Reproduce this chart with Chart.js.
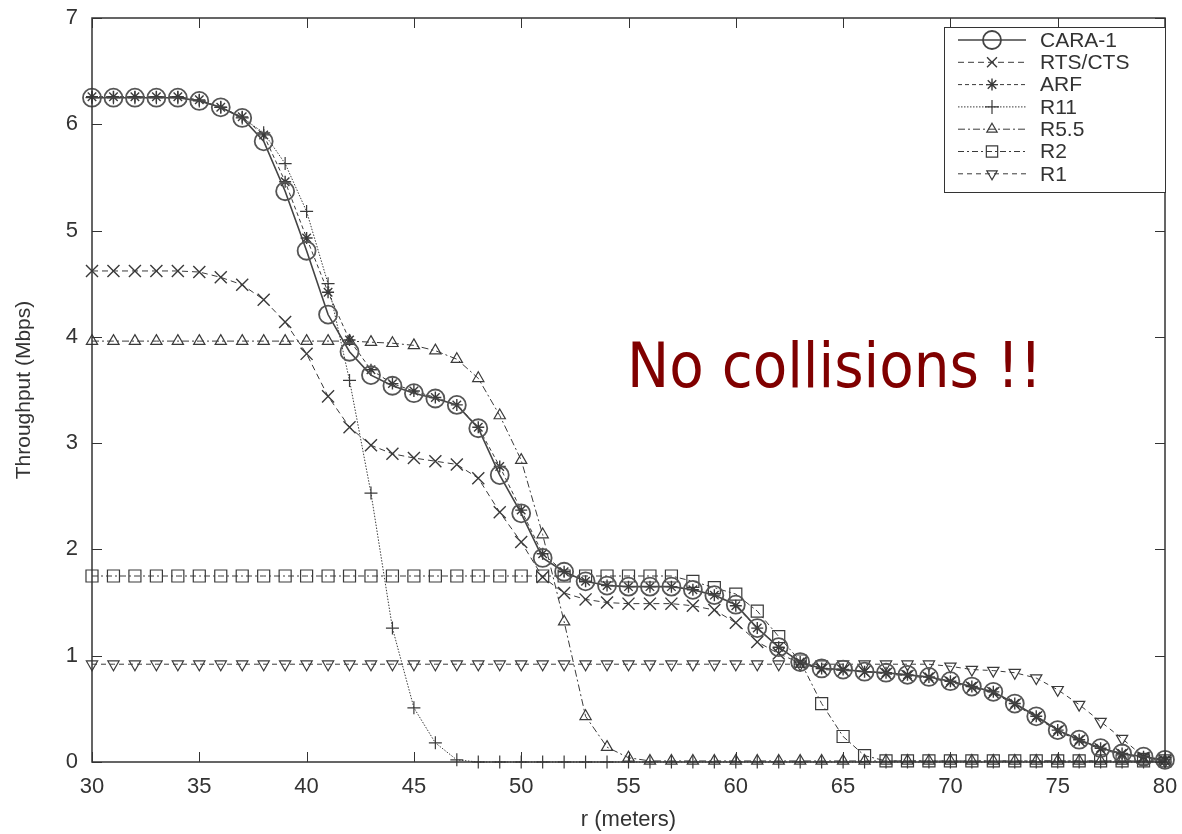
<!DOCTYPE html>
<html>
<head>
<meta charset="utf-8">
<script src="https://cdn.jsdelivr.net/npm/chart.js@4.4.0/dist/chart.umd.min.js"></script>
<style>
  html, body { margin: 0; padding: 0; background: #fff; }
  #chart { display: block; }
</style>
</head>
<body>
<canvas id="chart" width="1182" height="834"></canvas>
<script>
// r (meters)
const distances = [30, 31, 32, 33, 34, 35, 36, 37, 38, 39,
                   40, 41, 42, 43, 44, 45, 46, 47, 48, 49,
                   50, 51, 52, 53, 54, 55, 56, 57, 58, 59,
                   60, 61, 62, 63, 64, 65, 66, 67, 68, 69,
                   70, 71, 72, 73, 74, 75, 76, 77, 78, 79, 80];

// throughput (Mbps), one value per distance
const cara1 = [6.25, 6.25, 6.25, 6.25, 6.25, 6.22, 6.16, 6.06, 5.84, 5.37,
               4.81, 4.21, 3.86, 3.64, 3.54, 3.47, 3.42, 3.36, 3.14, 2.70,
               2.34, 1.92, 1.79, 1.70, 1.66, 1.65, 1.65, 1.65, 1.62, 1.57,
               1.48, 1.26, 1.08, 0.94, 0.88, 0.87, 0.85, 0.84, 0.82, 0.80,
               0.76, 0.71, 0.66, 0.55, 0.43, 0.30, 0.21, 0.13, 0.08, 0.05, 0.02];
const rtsCts = [4.62, 4.62, 4.62, 4.62, 4.62, 4.61, 4.56, 4.49, 4.35, 4.14,
                3.84, 3.44, 3.15, 2.98, 2.90, 2.86, 2.83, 2.80, 2.67, 2.35,
                2.07, 1.74, 1.59, 1.53, 1.50, 1.49, 1.49, 1.49, 1.47, 1.43,
                1.31, 1.13, 1.02, 0.93, 0.87, 0.86, 0.85, 0.83, 0.81, 0.79,
                0.75, 0.70, 0.65, 0.54, 0.42, 0.29, 0.20, 0.12, 0.07, 0.04, 0.01];
const arf = [6.26, 6.26, 6.26, 6.26, 6.26, 6.23, 6.16, 6.07, 5.90, 5.46,
             4.93, 4.42, 3.97, 3.69, 3.56, 3.49, 3.43, 3.36, 3.15, 2.78,
             2.37, 1.96, 1.79, 1.70, 1.66, 1.65, 1.65, 1.65, 1.62, 1.57,
             1.47, 1.26, 1.08, 0.94, 0.88, 0.87, 0.85, 0.84, 0.82, 0.80,
             0.76, 0.71, 0.66, 0.55, 0.43, 0.30, 0.21, 0.13, 0.08, 0.05, 0.02];
const r11 = [6.25, 6.25, 6.25, 6.25, 6.25, 6.22, 6.16, 6.06, 5.92, 5.63,
             5.18, 4.50, 3.59, 2.53, 1.26, 0.51, 0.18, 0.02, 0, 0,
             0, 0, 0, 0, 0, 0, 0, 0, 0, 0,
             0, 0, 0, 0, 0, 0, 0, 0, 0, 0,
             0, 0, 0, 0, 0, 0, 0, 0, 0, 0, 0];
const r55 = [3.96, 3.96, 3.96, 3.96, 3.96, 3.96, 3.96, 3.96, 3.96, 3.96,
             3.96, 3.96, 3.96, 3.95, 3.94, 3.92, 3.87, 3.79, 3.61, 3.26,
             2.84, 2.14, 1.32, 0.43, 0.14, 0.04, 0.01, 0.01, 0.01, 0.01,
             0.01, 0.01, 0.01, 0.01, 0.01, 0.01, 0.01, 0.01, 0.01, 0.01,
             0.01, 0.01, 0.01, 0.01, 0.01, 0.01, 0.01, 0.01, 0.01, 0.01, 0.01];
const r2 = [1.75, 1.75, 1.75, 1.75, 1.75, 1.75, 1.75, 1.75, 1.75, 1.75,
            1.75, 1.75, 1.75, 1.75, 1.75, 1.75, 1.75, 1.75, 1.75, 1.75,
            1.75, 1.75, 1.75, 1.75, 1.75, 1.75, 1.75, 1.75, 1.70, 1.64,
            1.58, 1.42, 1.18, 0.95, 0.55, 0.24, 0.06, 0.01, 0.01, 0.01,
            0.01, 0.01, 0.01, 0.01, 0.01, 0.01, 0.01, 0.01, 0.01, 0.01, 0.01];
const r1 = [0.92, 0.92, 0.92, 0.92, 0.92, 0.92, 0.92, 0.92, 0.92, 0.92,
            0.92, 0.92, 0.92, 0.92, 0.92, 0.92, 0.92, 0.92, 0.92, 0.92,
            0.92, 0.92, 0.92, 0.92, 0.92, 0.92, 0.92, 0.92, 0.92, 0.92,
            0.92, 0.92, 0.92, 0.92, 0.92, 0.92, 0.92, 0.92, 0.92, 0.92,
            0.90, 0.87, 0.86, 0.84, 0.79, 0.68, 0.54, 0.38, 0.22, 0.05, 0.01];

const xTicks = [30, 35, 40, 45, 50, 55, 60, 65, 70, 75, 80];
const yTicks = [0, 1, 2, 3, 4, 5, 6, 7];

const FONT = `"Liberation Sans", Arial, Helvetica, sans-serif`;
const INK = `#333`;

let toPoints = (vals) => distances.map((r, i) => ({ x: r, y: vals[i] }));

let makeSet = (label, vals, style) => Object.assign({
	label: label,
	data: toPoints(vals),
	borderColor: `#3a3a3a`,
	pointBorderColor: `#3a3a3a`,
	pointBackgroundColor: `rgba(0,0,0,0)`,
	borderWidth: 1,
	pointBorderWidth: 1.2,
	tension: 0,
	clip: false,
}, style);

// inward ticks + frame, gnuplot style
const frameTicks = {
	id: `frameTicks`,
	afterDatasetsDraw(chart) {
		const { ctx, chartArea: a, scales: { x, y } } = chart;
		ctx.save();
		ctx.strokeStyle = INK;
		ctx.lineWidth = 1.5;
		ctx.strokeRect(a.left, a.top, a.right - a.left, a.bottom - a.top);
		ctx.lineWidth = 1;
		ctx.beginPath();
		for (let v of xTicks) {
			let px = Math.round(x.getPixelForValue(v)) + 0.5;
			ctx.moveTo(px, a.bottom); ctx.lineTo(px, a.bottom - 10);
			ctx.moveTo(px, a.top); ctx.lineTo(px, a.top + 10);
		}
		for (let v of yTicks) {
			let py = Math.round(y.getPixelForValue(v)) + 0.5;
			ctx.moveTo(a.left, py); ctx.lineTo(a.left + 10, py);
			ctx.moveTo(a.right, py); ctx.lineTo(a.right - 10, py);
		}
		ctx.stroke();
		ctx.restore();
	},
};

// boxed legend with line samples, top right
const legendBox = {
	id: `legendBox`,
	afterDraw(chart) {
		const ctx = chart.ctx;
		const a = chart.chartArea;
		const boxL = 944, boxT = 27, boxB = 192;
		ctx.save();
		ctx.fillStyle = `#fff`;
		ctx.fillRect(boxL, boxT, a.right - boxL, boxB - boxT);
		ctx.strokeStyle = INK;
		ctx.lineWidth = 1;
		ctx.strokeRect(boxL + 0.5, boxT + 0.5, a.right - boxL, boxB - boxT);
		chart.data.datasets.forEach((ds, i) => {
			let ly = 40 + i * 22.3;
			ctx.strokeStyle = ds.borderColor;
			ctx.lineWidth = ds.borderWidth;
			ctx.setLineDash(ds.borderDash || []);
			ctx.beginPath();
			ctx.moveTo(958, ly);
			ctx.lineTo(1026, ly);
			ctx.stroke();
			ctx.setLineDash([]);
			ctx.lineWidth = ds.pointBorderWidth;
			ctx.fillStyle = `rgba(0,0,0,0)`;
			Chart.helpers.drawPoint(ctx, {
				pointStyle: ds.pointStyle,
				rotation: ds.pointRotation || 0,
				radius: ds.legendRadius,
				borderWidth: ds.pointBorderWidth,
			}, 992, ly);
			ctx.fillStyle = INK;
			ctx.font = `21px ${FONT}`;
			ctx.textBaseline = `middle`;
			ctx.textAlign = `left`;
			ctx.fillText(ds.label, 1040, ly + 1);
		});
		// slide annotation
		ctx.fillStyle = `#800000`;
		ctx.font = `62px "DejaVu Sans", sans-serif`;
		ctx.textBaseline = `alphabetic`;
		ctx.fillText(`No collisions !!`, 627, 387, 415);
		ctx.restore();
	},
};

new Chart(document.getElementById(`chart`).getContext(`2d`),
{
	type: `line`,
	data: {
		datasets: [
			makeSet(`CARA-1`, cara1, { borderColor: `#444`, pointBorderColor: `#555`, borderWidth: 1.6, pointBorderWidth: 1.8, pointStyle: `circle`, pointRadius: 9, legendRadius: 9 }),
			makeSet(`RTS/CTS`, rtsCts, { borderDash: [6, 4], pointStyle: `crossRot`, pointRadius: 8.5, pointBorderWidth: 1.4, legendRadius: 7 }),
			makeSet(`ARF`, arf, { borderDash: [4, 3], pointStyle: `star`, pointRadius: 6, pointBorderWidth: 1.4, legendRadius: 6 }),
			makeSet(`R11`, r11, { borderDash: [1.5, 1.5], pointStyle: `cross`, pointRadius: 6.5, legendRadius: 7 }),
			makeSet(`R5.5`, r55, { borderDash: [7, 3, 2, 3], pointStyle: `triangle`, pointRadius: 6.5, legendRadius: 6 }),
			makeSet(`R2`, r2, { borderDash: [6, 3, 2, 3], pointStyle: `rect`, pointRadius: 8.5, legendRadius: 8 }),
			makeSet(`R1`, r1, { borderDash: [5, 4], pointStyle: `triangle`, pointRotation: 180, pointRadius: 6.5, legendRadius: 6 }),
		],
	},
	options: {
		responsive: false,
		animation: false,
		layout: { padding: { top: 18, right: 17, left: 0, bottom: 0 } },
		scales: {
			x: {
				type: `linear`,
				min: 30,
				max: 80,
				afterFit: (s) => { s.height = 72; s.paddingLeft = 0; s.paddingRight = 0; },
				afterBuildTicks: (s) => { s.ticks = xTicks.map(v => ({ value: v })); },
				grid: { display: false, drawTicks: false },
				border: { display: false },
				ticks: { padding: 12, color: INK, font: { family: FONT, size: 22 } },
				title: { display: true, text: `r (meters)`, color: INK, font: { family: FONT, size: 22 }, padding: { top: 0, bottom: 1 } },
			},
			y: {
				min: 0,
				max: 7,
				afterFit: (s) => { s.width = 92; s.paddingTop = 0; s.paddingBottom = 0; },
				afterBuildTicks: (s) => { s.ticks = yTicks.map(v => ({ value: v })); },
				grid: { display: false, drawTicks: false },
				border: { display: false },
				ticks: { padding: 14, color: INK, font: { family: FONT, size: 22 } },
				title: { display: true, text: `Throughput (Mbps)`, color: INK, font: { family: FONT, size: 21 }, padding: { top: 12, bottom: 0 } },
			},
		},
		plugins: {
			legend: { display: false },
			tooltip: { enabled: false },
		},
	},
	plugins: [frameTicks, legendBox],
});
</script>
</body>
</html>
